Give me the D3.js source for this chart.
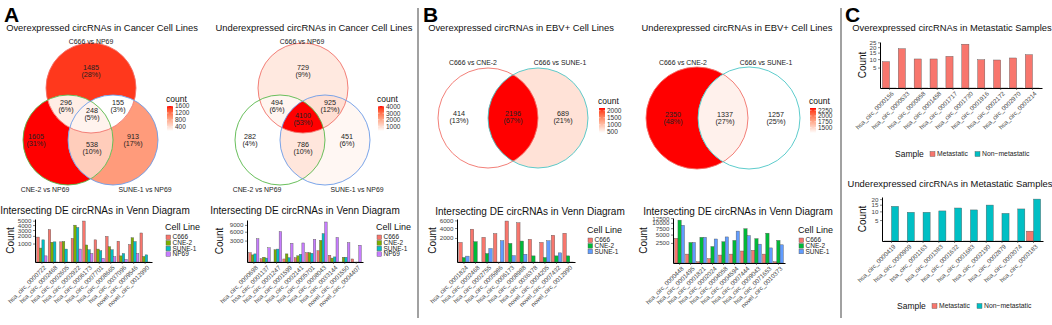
<!DOCTYPE html>
<html>
<head>
<meta charset="utf-8">
<script src="https://cdn.jsdelivr.net/npm/d3@7"></script>
<style>
  body { margin: 0; background: #fff; }
  text { font-family: "Liberation Sans", Arial, sans-serif; }
</style>
</head>
<body>
<svg id="fig" width="1052" height="325"></svg>
<script>
// ---- Venn data (region keys: membership bits in set order) ----
var cancerSets = ["C666 vs NP69", "CNE-2 vs NP69", "SUNE-1 vs NP69"];
var ebvSets = ["C666 vs CNE-2", "C666 vs SUNE-1"];
var keys3 = ["100", "010", "001", "110", "101", "011", "111"];
var keys2 = ["10", "01", "11"];
var overCancerCounts = [1485, 1605, 913, 296, 155, 538, 248];
var underCancerCounts = [729, 282, 451, 494, 925, 786, 4100];
var overEbvCounts = [414, 689, 2196];
var underEbvCounts = [2350, 1257, 1337];
var overCancerLegend = [400, 800, 1200, 1600];
var underCancerLegend = [1000, 2000, 3000, 4000];
var overEbvLegend = [500, 1000, 1500, 2000];
var underEbvLegend = [1500, 1750, 2000, 2250];

// ---- Intersecting DE circRNAs bar data ----
var cancerLines = ["C666", "CNE-2", "SUNE-1", "NP69"];
var ebvLines = ["C666", "CNE-2", "SUNE-1"];

var aOverCats = ["hsa_circ_0000722", "hsa_circ_0002468", "hsa_circ_0002605", "hsa_circ_0002922", "hsa_circ_0006173",
  "hsa_circ_0007701", "hsa_circ_0008665", "hsa_circ_0037096", "novel_circ_0009546", "novel_circ_0012990"];
var aOverC666 = [1820, 3080, 1190, 1630, 4920, 1440, 1920, 1270, 890, 2470];
var aOverCNE2 = [570, 1150, 1230, 3980, 850, 490, 690, 110, 1720, 90];
var aOverSUNE1 = [1440, 1190, 490, 3490, 440, 370, 440, 210, 1230, 150];
var aOverNP69 = [110, 0, 0, 490, 210, 40, 80, 20, 210, 0];
var aOverTicks = [1000, 2000, 3000, 4000, 5000];

var aUnderCats = ["hsa_circ_0000698", "hsa_circ_0001137", "hsa_circ_0001247", "hsa_circ_0001599", "hsa_circ_0002141",
  "hsa_circ_0005701", "hsa_circ_0008043", "hsa_circ_0033144", "novel_circ_0001550", "novel_circ_0004407"];
var aUnderC666 = [570, 70, 0, 60, 120, 570, 830, 300, 0, 60];
var aUnderCNE2 = [330, 150, 980, 430, 250, 570, 3060, 100, 150, 0];
var aUnderSUNE1 = [430, 100, 1090, 120, 390, 500, 5270, 170, 150, 0];
var aUnderNP69 = [3530, 1320, 6020, 2290, 2370, 3340, 10470, 3930, 2450, 1840];
var aUnderTicks = [3000, 6000, 9000];

var bOverCats = ["hsa_circ_0001824", "hsa_circ_0002468", "hsa_circ_0002755", "hsa_circ_0005986", "hsa_circ_0006173",
  "hsa_circ_0008988", "hsa_circ_0036378", "novel_circ_0004205", "novel_circ_0007432", "novel_circ_0012990"];
var bOverC666 = [1330, 3730, 2110, 2800, 5810, 5340, 1780, 1330, 2480, 2870];
var bOverCNE2 = [70, 1430, 250, 0, 1200, 1520, 130, 70, 130, 130];
var bOverSUNE1 = [120, 0, 630, 1570, 140, 210, 0, 1570, 290, 0];
var bOverTicks = [2000, 4000, 6000];

var bUnderCats = ["hsa_circ_0000448", "hsa_circ_0001495", "hsa_circ_0001821", "hsa_circ_0002024", "hsa_circ_0004058",
  "hsa_circ_0004594", "hsa_circ_0007444", "hsa_circ_0009043", "hsa_circ_0071653", "novel_circ_0010373"];
var bUnderC666 = [3770, 490, 10, 120, 390, 490, 890, 1000, 490, 10];
var bUnderCNE2 = [11380, 2620, 4100, 1680, 2800, 3170, 7280, 3670, 5510, 3170];
var bUnderSUNE1 = [8810, 2620, 4100, 3570, 4210, 6300, 4660, 2200, 1410, 2050];
var bUnderTicks = [2500, 5000, 7500, 10000, 12500];

// ---- Metastatic samples ----
var sampleTypes = ["Metastatic", "Non\u2212metastatic"];
var cOverCats = ["hsa_circ_0000156", "hsa_circ_0000533", "hsa_circ_0000958", "hsa_circ_0001458", "hsa_circ_0001717",
  "hsa_circ_0001730", "hsa_circ_0001916", "hsa_circ_0002172", "hsa_circ_0002970", "hsa_circ_0003214"];
var cOverMet = [8.3, 18.5, 10.1, 10.1, 12, 23, 9.6, 9.4, 10.8, 13.3];
var cOverNon = [0, 0, 0, 0, 0, 0, 0, 0, 0, 0];
var cOverTicks = [5, 10, 15, 20, 25];

var cUnderCats = ["hsa_circ_0000419", "hsa_circ_0000909", "hsa_circ_0001163", "hsa_circ_0001383", "hsa_circ_0001632",
  "hsa_circ_0001683", "hsa_circ_0002190", "hsa_circ_0002879", "hsa_circ_0003074", "hsa_circ_0003183"];
var cUnderMet = [0, 0, 0, 0, 0, 0, 0, 0, 0, 1.1];
var cUnderNon = [13.7, 9.4, 9.4, 10.3, 12.4, 11, 14.7, 8.7, 11.7, 20];
var cUnderTicks = [5, 10, 15, 20];

var fig = d3.select("#fig");
var defs = fig.append("defs");
var uid = 0;
fig.append("rect").attr("width", 1052).attr("height", 325).attr("fill", "#fff");

// panel letters and dividers
[["A", 4], ["B", 423], ["C", 845]].forEach(function(p) {
  fig.append("text").attr("x", p[1]).attr("y", 22).attr("font-size", 21).attr("font-weight", "bold").text(p[0]);
});
[418, 841].forEach(function(x) {
  fig.append("line").attr("x1", x).attr("x2", x).attr("y1", 8).attr("y2", 318)
    .attr("stroke", "#8a8a8a").attr("stroke-width", 1.6);
});

function title(txt, x, y, size) {
  fig.append("text").attr("x", x).attr("y", y).attr("text-anchor", "middle")
    .attr("font-size", size).attr("fill", "#111").text(txt);
}

// Venn diagram: regions filled by count (white -> red)
function venn(opt) {
  var g = fig.append("g");
  var circles = opt.circles;
  var total = d3.sum(opt.counts);
  var ext = d3.extent(opt.counts);
  var color = d3.scaleLinear().domain(ext).range(["#ffffff", "#ff0000"]).interpolate(d3.interpolateLab);
  var bx0 = d3.min(circles, function(c) { return c.cx - c.r; }) - 2;
  var bx1 = d3.max(circles, function(c) { return c.cx + c.r; }) + 2;
  var by0 = d3.min(circles, function(c) { return c.cy - c.r; }) - 2;
  var by1 = d3.max(circles, function(c) { return c.cy + c.r; }) + 2;

  opt.keys.forEach(function(k, j) {
    var bits = k.split("").map(Number);
    var parent = g;
    var mid = "m" + (uid++);
    var mask = defs.append("mask").attr("id", mid).attr("maskUnits", "userSpaceOnUse");
    mask.append("rect").attr("x", bx0).attr("y", by0).attr("width", bx1 - bx0).attr("height", by1 - by0).attr("fill", "#fff");
    bits.forEach(function(b, i) {
      var c = circles[i];
      if (b) {
        var cid = "c" + (uid++);
        defs.append("clipPath").attr("id", cid).append("circle").attr("cx", c.cx).attr("cy", c.cy).attr("r", c.r);
        parent = parent.append("g").attr("clip-path", "url(#" + cid + ")");
      } else {
        mask.append("circle").attr("cx", c.cx).attr("cy", c.cy).attr("r", c.r).attr("fill", "#000");
      }
    });
    parent.append("rect").attr("x", bx0).attr("y", by0).attr("width", bx1 - bx0).attr("height", by1 - by0)
      .attr("fill", color(opt.counts[j])).attr("mask", "url(#" + mid + ")");
  });

  circles.forEach(function(c) {
    g.append("circle").attr("cx", c.cx).attr("cy", c.cy).attr("r", c.r)
      .attr("fill", "none").attr("stroke", c.stroke).attr("stroke-width", 0.9);
  });

  opt.keys.forEach(function(k, j) {
    var p = opt.regionPos[j];
    var t = g.append("text").attr("text-anchor", "middle").attr("font-size", 7.2).attr("fill", "#222");
    t.append("tspan").attr("x", p[0]).attr("y", p[1] - 1.3).text(opt.counts[j]);
    t.append("tspan").attr("x", p[0]).attr("y", p[1] + 5.8).text("(" + Math.round(opt.counts[j] / total * 100) + "%)");
  });

  opt.sets.forEach(function(s, i) {
    g.append("text").attr("x", opt.labelPos[i][0]).attr("y", opt.labelPos[i][1]).attr("text-anchor", "middle")
      .attr("font-size", 6.9).attr("fill", "#222").text(s);
  });

  // legend
  var L = opt.legend;
  var gid = "g" + (uid++);
  var grad = defs.append("linearGradient").attr("id", gid).attr("x1", 0).attr("y1", 1).attr("x2", 0).attr("y2", 0);
  d3.range(0, 1.0001, 0.1).forEach(function(f) {
    grad.append("stop").attr("offset", f).attr("stop-color", color(ext[0] + f * (ext[1] - ext[0])));
  });
  g.append("text").attr("x", L.x - 1).attr("y", L.y - 4).attr("font-size", 8.5).attr("fill", "#111").text("count");
  g.append("rect").attr("x", L.x).attr("y", L.y).attr("width", 6).attr("height", 25).attr("fill", "url(#" + gid + ")");
  var ls = d3.scaleLinear().domain(ext).range([L.y + 25, L.y]);
  opt.legendTicks.forEach(function(v) {
    g.append("line").attr("x1", L.x).attr("x2", L.x + 1.5).attr("y1", ls(v)).attr("y2", ls(v)).attr("stroke", "#fff").attr("stroke-width", 0.5);
    g.append("line").attr("x1", L.x + 4.5).attr("x2", L.x + 6).attr("y1", ls(v)).attr("y2", ls(v)).attr("stroke", "#fff").attr("stroke-width", 0.5);
    g.append("text").attr("x", L.x + 8).attr("y", ls(v) + 2.3).attr("font-size", 6.5).attr("fill", "#333").text(v);
  });
}

// grouped bar chart on a sqrt y scale
function bars(opt) {
  var g = fig.append("g");
  var x = d3.scaleBand().domain(opt.cats).range([opt.x0, opt.x1]).paddingInner(0.1).paddingOuter(0.15);
  var xs = d3.scaleBand().domain(opt.names).range([0, x.bandwidth()]);
  var all = d3.merge(opt.series);
  var ymax = Math.pow(Math.sqrt(d3.max(all)) * 1.05, 2);
  var y = d3.scaleSqrt().domain([0, ymax]).range([opt.yb, opt.yt]);

  opt.series.forEach(function(vals, s) {
    g.selectAll(null).data(vals).enter().append("rect")
      .attr("x", function(d, i) { return x(opt.cats[i]) + xs(opt.names[s]); })
      .attr("y", function(d) { return y(d); })
      .attr("width", xs.bandwidth())
      .attr("height", function(d) { return Math.max(opt.yb - y(d), 0.01); })
      .attr("fill", opt.colors[s]).attr("stroke", "#555").attr("stroke-width", 0.4);
  });

  var ya = g.append("g").attr("transform", "translate(" + opt.x0 + ",0)")
    .call(d3.axisLeft(y).tickValues(opt.ticks).tickFormat(d3.format("d")).tickSize(2).tickSizeOuter(0).tickPadding(1.5));
  var xa = g.append("g").attr("transform", "translate(0," + opt.yb + ")")
    .call(d3.axisBottom(x).tickSize(2).tickSizeOuter(0));
  [ya, xa].forEach(function(a) {
    a.select(".domain").attr("stroke", "#000").attr("stroke-width", 1);
    a.selectAll(".tick line").attr("stroke", "#333").attr("stroke-width", 0.6);
    a.selectAll("text").attr("font-size", 6.2).attr("fill", "#444").attr("font-family", null);
  });
  xa.selectAll("text").attr("y", 0).attr("dy", "0.7em").attr("x", 0)
    .attr("transform", "translate(1.5,3) rotate(-45)").attr("text-anchor", "end");

  g.append("text").attr("transform", "translate(" + opt.countX + "," + ((opt.yb + opt.yt) / 2) + ") rotate(-90)")
    .attr("text-anchor", "middle").attr("font-size", 10).attr("fill", "#111").text("Count");

  title(opt.title, opt.titleX, opt.titleY, opt.titleSize);

  var L = opt.legend;
  if (L.vertical) {
    g.append("text").attr("x", L.x).attr("y", L.y).attr("font-size", 9).attr("fill", "#111").text(L.title);
    opt.names.forEach(function(nm, i) {
      var yy = L.y + 5 + i * 5.6;
      g.append("rect").attr("x", L.x + 1).attr("y", yy).attr("width", 4.6).attr("height", 4.6)
        .attr("fill", opt.colors[i]).attr("stroke", "#555").attr("stroke-width", 0.4);
      g.append("text").attr("x", L.x + 7.5).attr("y", yy + 4.3).attr("font-size", 6.5).attr("fill", "#222").text(nm);
    });
  } else {
    g.append("text").attr("x", L.x).attr("y", L.y).attr("font-size", 8.5).attr("fill", "#111").text(L.title);
    L.keys.forEach(function(kx, i) {
      g.append("rect").attr("x", kx).attr("y", L.y - 5.5).attr("width", 5).attr("height", 5)
        .attr("fill", opt.colors[i]).attr("stroke", "#555").attr("stroke-width", 0.4);
      g.append("text").attr("x", kx + 7).attr("y", L.y - 1).attr("font-size", 6.8).attr("fill", "#222").text(opt.names[i]);
    });
  }
}

// ---- Panel A ----
title("Overexpressed  circRNAs in Cancer Cell Lines", 102, 31, 9.4);
venn({
  circles: [{cx: 91, cy: 88, r: 45, stroke: "#f0726a"}, {cx: 68, cy: 140, r: 45, stroke: "#58b84a"}, {cx: 113, cy: 140, r: 45, stroke: "#6b9be8"}],
  sets: cancerSets, keys: keys3, counts: overCancerCounts,
  regionPos: [[91, 71], [36, 140], [133, 140], [66, 106], [118, 106], [92, 148], [92, 114]],
  labelPos: [[91, 43.5], [45, 192], [145, 192]],
  legend: {x: 167, y: 106}, legendTicks: overCancerLegend
});
title("Underexpressed circRNAs in Cancer Cell Lines", 314, 31, 9.4);
venn({
  circles: [{cx: 303, cy: 88, r: 45, stroke: "#f0726a"}, {cx: 280, cy: 140, r: 45, stroke: "#58b84a"}, {cx: 325, cy: 140, r: 45, stroke: "#6b9be8"}],
  sets: cancerSets, keys: keys3, counts: underCancerCounts,
  regionPos: [[303, 71], [250, 140], [347, 140], [277, 106], [330, 106], [303, 148], [303, 119]],
  labelPos: [[302, 43.5], [257, 192], [357, 192]],
  legend: {x: 378, y: 106}, legendTicks: underCancerLegend
});

var cancerColors = ["#F8766D", "#7CAE00", "#00BFC4", "#C77CFF"];
var ebvColors = ["#F8766D", "#00BA38", "#619CFF"];
var sampleColors = ["#F8766D", "#00BFC4"];

bars({
  cats: aOverCats, names: cancerLines, series: [aOverC666, aOverCNE2, aOverSUNE1, aOverNP69], colors: cancerColors,
  ticks: aOverTicks, x0: 35, x1: 152, yb: 262, yt: 219, countX: 14,
  title: "Intersecting DE circRNAs in Venn Diagram", titleX: 95, titleY: 214, titleSize: 10,
  legend: {vertical: true, x: 165, y: 230, title: "Cell Line"}
});
bars({
  cats: aUnderCats, names: cancerLines, series: [aUnderC666, aUnderCNE2, aUnderSUNE1, aUnderNP69], colors: cancerColors,
  ticks: aUnderTicks, x0: 247, x1: 363, yb: 262, yt: 220, countX: 223,
  title: "Intersecting DE circRNAs in Venn Diagram", titleX: 305, titleY: 214, titleSize: 10,
  legend: {vertical: true, x: 376, y: 230, title: "Cell Line"}
});

// ---- Panel B ----
title("Overexpressed circRNAs in EBV+ Cell Lines", 521, 31, 9.4);
venn({
  circles: [{cx: 488, cy: 118, r: 50, stroke: "#f0726a"}, {cx: 538, cy: 118, r: 50, stroke: "#4cc6c6"}],
  sets: ebvSets, keys: keys2, counts: overEbvCounts,
  regionPos: [[459, 117], [563, 117], [513, 117]],
  labelPos: [[473, 65], [560, 65]],
  legend: {x: 599, y: 108}, legendTicks: overEbvLegend
});
title("Underexpressed circRNAs in EBV+ Cell Lines", 737, 31, 9.4);
venn({
  circles: [{cx: 697, cy: 118, r: 51, stroke: "#f0726a"}, {cx: 749, cy: 118, r: 51, stroke: "#4cc6c6"}],
  sets: ebvSets, keys: keys2, counts: underEbvCounts,
  regionPos: [[673, 118], [776, 118], [725, 118]],
  labelPos: [[683, 65], [766, 65]],
  legend: {x: 810, y: 108}, legendTicks: underEbvLegend
});

bars({
  cats: bOverCats, names: ebvLines, series: [bOverC666, bOverCNE2, bOverSUNE1], colors: ebvColors,
  ticks: bOverTicks, x0: 457, x1: 575, yb: 262, yt: 219, countX: 436,
  title: "Intersecting DE circRNAs in Venn Diagram", titleX: 530, titleY: 215, titleSize: 10,
  legend: {vertical: true, x: 587, y: 233, title: "Cell Line"}
});
bars({
  cats: bUnderCats, names: ebvLines, series: [bUnderC666, bUnderCNE2, bUnderSUNE1], colors: ebvColors,
  ticks: bUnderTicks, x0: 673, x1: 785, yb: 263, yt: 218, countX: 647,
  title: "Intersecting DE circRNAs in Venn Diagram", titleX: 738, titleY: 215, titleSize: 10,
  legend: {vertical: true, x: 798, y: 233, title: "Cell Line"}
});

// ---- Panel C ----
bars({
  cats: cOverCats, names: sampleTypes, series: [cOverMet, cOverNon], colors: sampleColors,
  ticks: cOverTicks, x0: 880, x1: 1042, yb: 88, yt: 42, countX: 866,
  title: "Overexpressed circRNAs in Metastatic Samples", titleX: 952, titleY: 31, titleSize: 9.4,
  legend: {vertical: false, x: 895, y: 157, title: "Sample", keys: [930, 975]}
});
bars({
  cats: cUnderCats, names: sampleTypes, series: [cUnderMet, cUnderNon], colors: sampleColors,
  ticks: cUnderTicks, x0: 882, x1: 1043, yb: 241, yt: 197, countX: 866,
  title: "Underexpressed circRNAs in Metastatic Samples", titleX: 950, titleY: 187, titleSize: 9.4,
  legend: {vertical: false, x: 897, y: 309, title: "Sample", keys: [932, 977]}
});
</script>
</body>
</html>
